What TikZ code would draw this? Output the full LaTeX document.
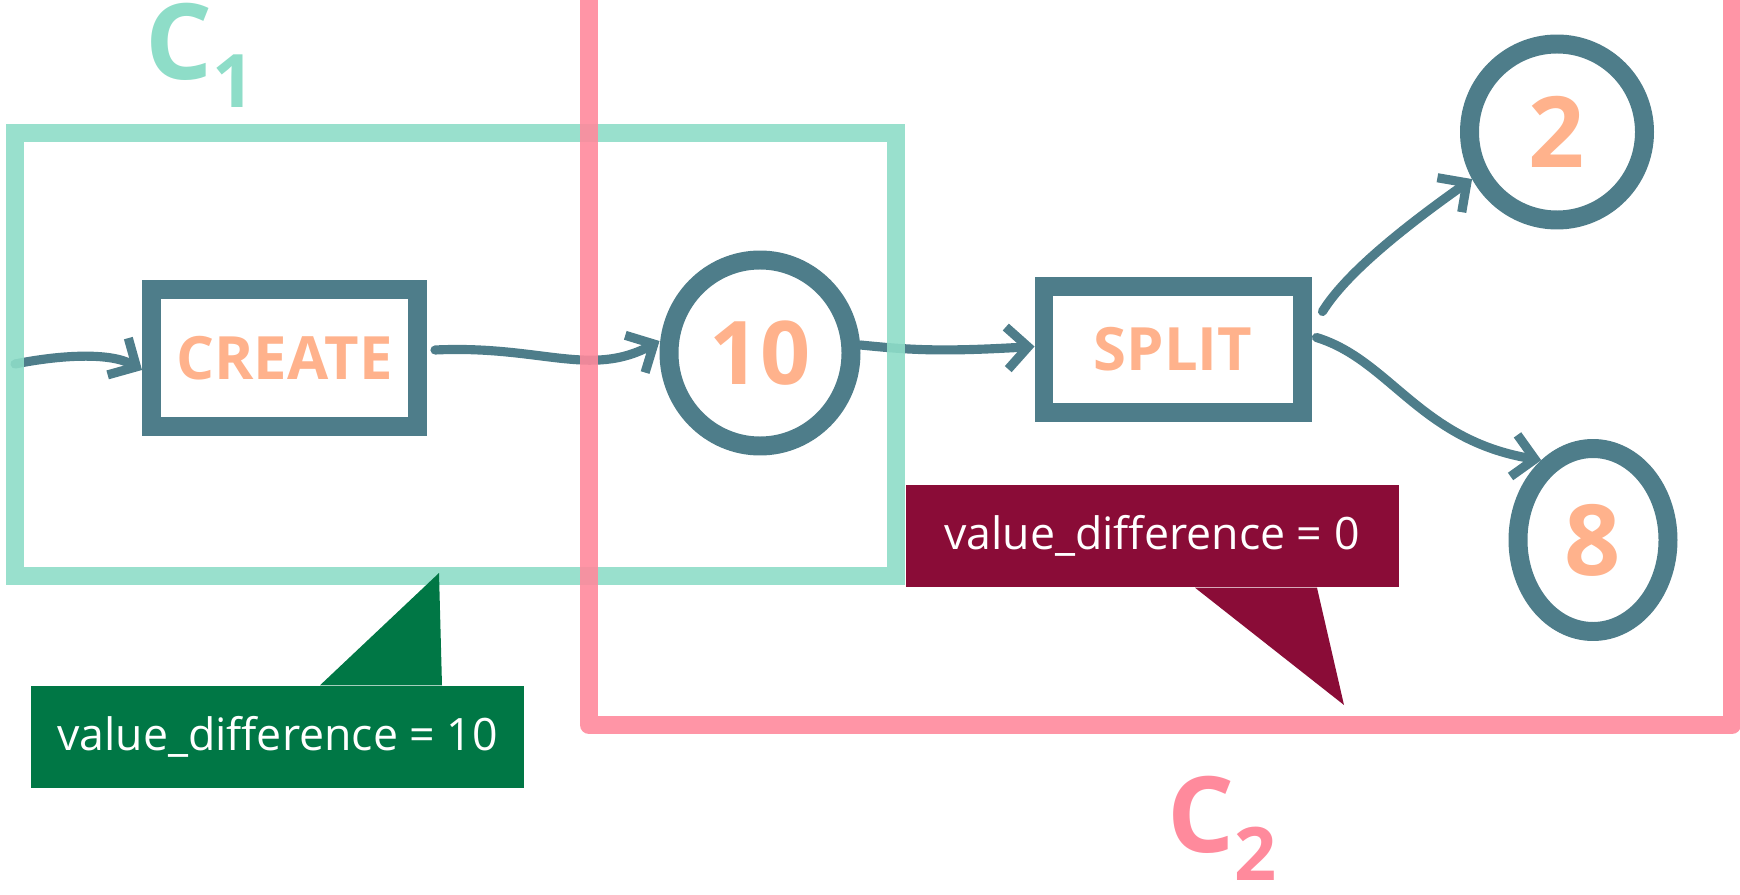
\documentclass[tikz,border=0pt]{standalone}
\usepackage{fontspec}
\setmainfont{Open Sans}
\usetikzlibrary{arrows.meta,shapes.geometric}
\definecolor{ink}{HTML}{4E7D8A}
\definecolor{peach}{HTML}{FFB28C}
\definecolor{mint}{HTML}{8EDDC8}
\definecolor{rose}{HTML}{FF8A9C}
\definecolor{leaf}{HTML}{007745}
\definecolor{wine}{HTML}{8A0C37}
\begin{document}
\begin{tikzpicture}[>={Straight Barb[length=6pt,width=12pt]},
  proc/.style={draw=ink,line width=5.4pt,text=peach,font=\fontsize{17}{17}\selectfont\bfseries},
  val/.style={ellipse,draw=ink,line width=5.4pt,inner sep=0pt,text=peach},
  flow/.style={->,draw=ink,line width=2.6pt,line cap=round},
  callout/.style={minimum width=4.93cm,minimum height=1.02cm,inner sep=0pt,text=white,font=\fontsize{12.7}{15}\selectfont}]
\useasboundingbox (0,0) rectangle (17.4,-8.95);
\node[proc,minimum width=2.66cm,minimum height=1.37cm] (create) at (2.845,-3.58) {CREATE};
\node[proc,minimum width=2.58cm,minimum height=1.26cm] (split) at (11.73,-3.495) {SPLIT};
\node[val,minimum width=1.82cm,minimum height=1.86cm,font=\fontsize{25}{25}\selectfont\bfseries] (ten) at (7.60,-3.53) {10};
\node[val,minimum width=1.75cm,minimum height=1.76cm,font=\fontsize{28}{28}\selectfont\bfseries] (two) at (15.57,-1.32) {2};
\node[val,minimum width=1.50cm,minimum height=1.83cm,font=\fontsize{28}{28}\selectfont\bfseries] (eight) at (15.93,-5.40) {8};
\coordinate (cin) at (0.15,-3.64);
\draw[flow] (cin) .. controls (0.6,-3.55) and (1.1,-3.52) .. ([yshift=-0.12cm]create.west);
\draw[flow] ([xshift=0.08cm,yshift=0.08cm]create.east) .. controls (5.4,-3.45) and (5.9,-3.78) .. ([yshift=0.12cm]ten.west);
\draw[flow] ([yshift=0.08cm]ten.east) .. controls (9.1,-3.50) and (9.4,-3.52) .. ([yshift=0.03cm]split.west);
\draw[flow] ([xshift=0.11cm,yshift=0.38cm]split.east) .. controls (13.45,-2.75) and (14.0,-2.3) .. (two.209);
\draw[flow] ([xshift=0.05cm,yshift=0.12cm]split.east) .. controls (13.9,-3.6) and (14.2,-4.4) .. (eight.123);
\draw[mint,line width=5.1pt,opacity=0.9] (0.15,-1.33) rectangle (8.96,-5.76);
\draw[rose,line width=5.1pt,opacity=0.9,line join=round] (5.89,0.3) |- (17.32,-7.25) -- (17.32,0.3);
\node[text=mint,font=\fontsize{30}{30}\selectfont\bfseries] (cone) at (2.0,-0.55) {C\lower8pt\hbox{\fontsize{21}{21}\selectfont 1}};
\node[text=rose,font=\fontsize{30}{30}\selectfont\bfseries] (ctwo) at (12.22,-8.28) {C\lower8pt\hbox{\fontsize{21}{21}\selectfont 2}};
\node[callout,fill=leaf] (diffa) at (2.775,-7.37) {value\_difference = 10};
\coordinate (tipa) at (4.39,-5.73);
\fill[leaf] ([xshift=0.425cm]diffa.north) -- (tipa) -- ([xshift=1.645cm]diffa.north) -- cycle;
\node[callout,fill=wine] (diffb) at (11.52,-5.36) {value\_difference = 0};
\coordinate (tipb) at (13.44,-7.05);
\fill[wine] ([xshift=0.43cm]diffb.south) -- (tipb) -- ([xshift=1.65cm]diffb.south) -- cycle;
\end{tikzpicture}
\end{document}
